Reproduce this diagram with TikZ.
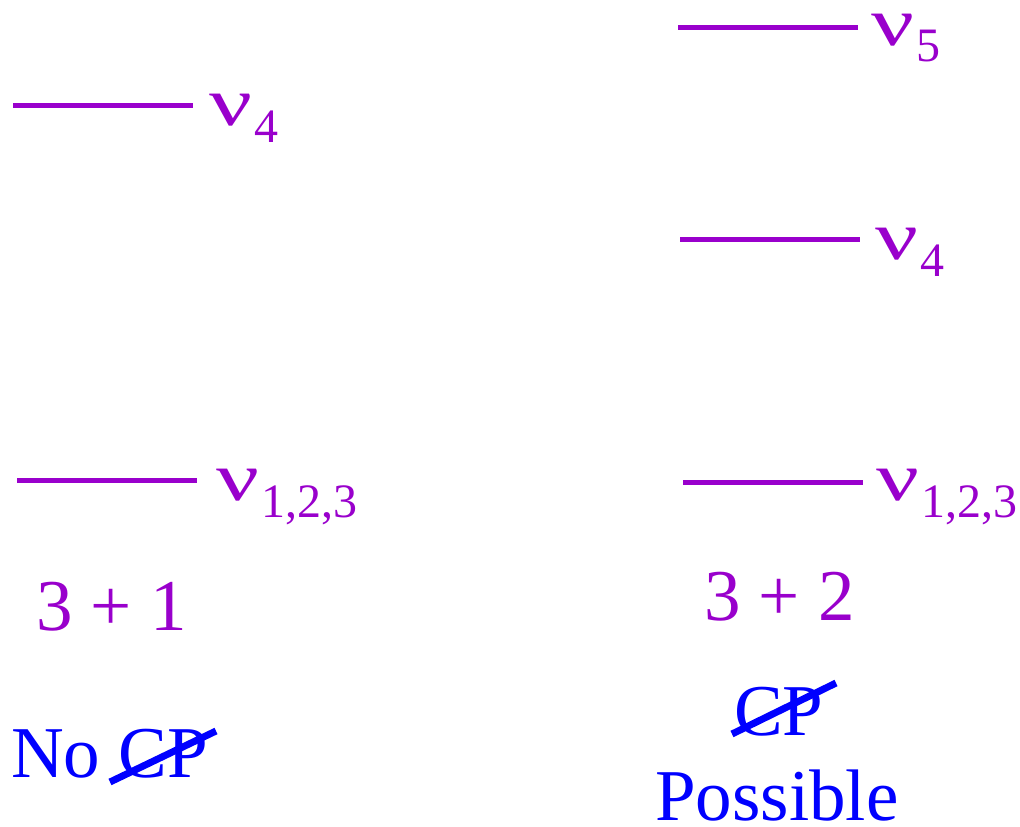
\documentclass[tikz,border=0pt]{standalone}
\usepackage{fontspec}
\setmainfont{Liberation Serif}
\definecolor{lvl}{HTML}{9900CC}
\definecolor{cpblue}{HTML}{0000FF}
\newcommand{\nulab}[1]{\makebox[45pt][l]{\scalebox{1.32}[0.95]{\fontsize{72}{80}\selectfont ν}}\raisebox{-17pt}{\fontsize{48}{50}\selectfont #1}}
\tikzset{
  level/.style={draw=lvl, line width=5pt},
  lab/.style={anchor=base west, inner sep=0pt, text=lvl, font=\fontsize{73}{80}\selectfont, text height=40pt},
  cptext/.style={anchor=base west, inner sep=0pt, text=cpblue, font=\fontsize{73}{80}\selectfont},
  strike/.style={draw=cpblue, line width=7pt}
}
\begin{document}
\begin{tikzpicture}[x=1pt,y=-1pt]
\useasboundingbox (0,0) rectangle (1020,827);
% left: 3+1
\draw[level] (13,105) -- (193,105);
\node[lab] (l4) at (209,125) {\nulab{4}};
\draw[level] (17,480) -- (197,480);
\node[lab] (l123) at (216,500) {\nulab{1,2,3}};
\node[lab] (t31) at (36,630) {3 + 1};
\node[cptext] (nocp) at (11,777) {No CP};
\draw[strike] (110,782) -- (216,731);
% right: 3+2
\draw[level] (678,27) -- (858,27);
\node[lab] (r5) at (871,45) {\nulab{5}};
\draw[level] (680,239) -- (860,239);
\node[lab] (r4) at (875,259) {\nulab{4}};
\draw[level] (683,482) -- (863,482);
\node[lab] (r123) at (876,500) {\nulab{1,2,3}};
\node[lab] (t32) at (704,620) {3 + 2};
\node[cptext] (cp) at (734,735) {CP};
\draw[strike] (732,734) -- (836,683);
\node[cptext, text depth=0pt] (poss) at (655,820) {Possible};
\end{tikzpicture}
\end{document}
